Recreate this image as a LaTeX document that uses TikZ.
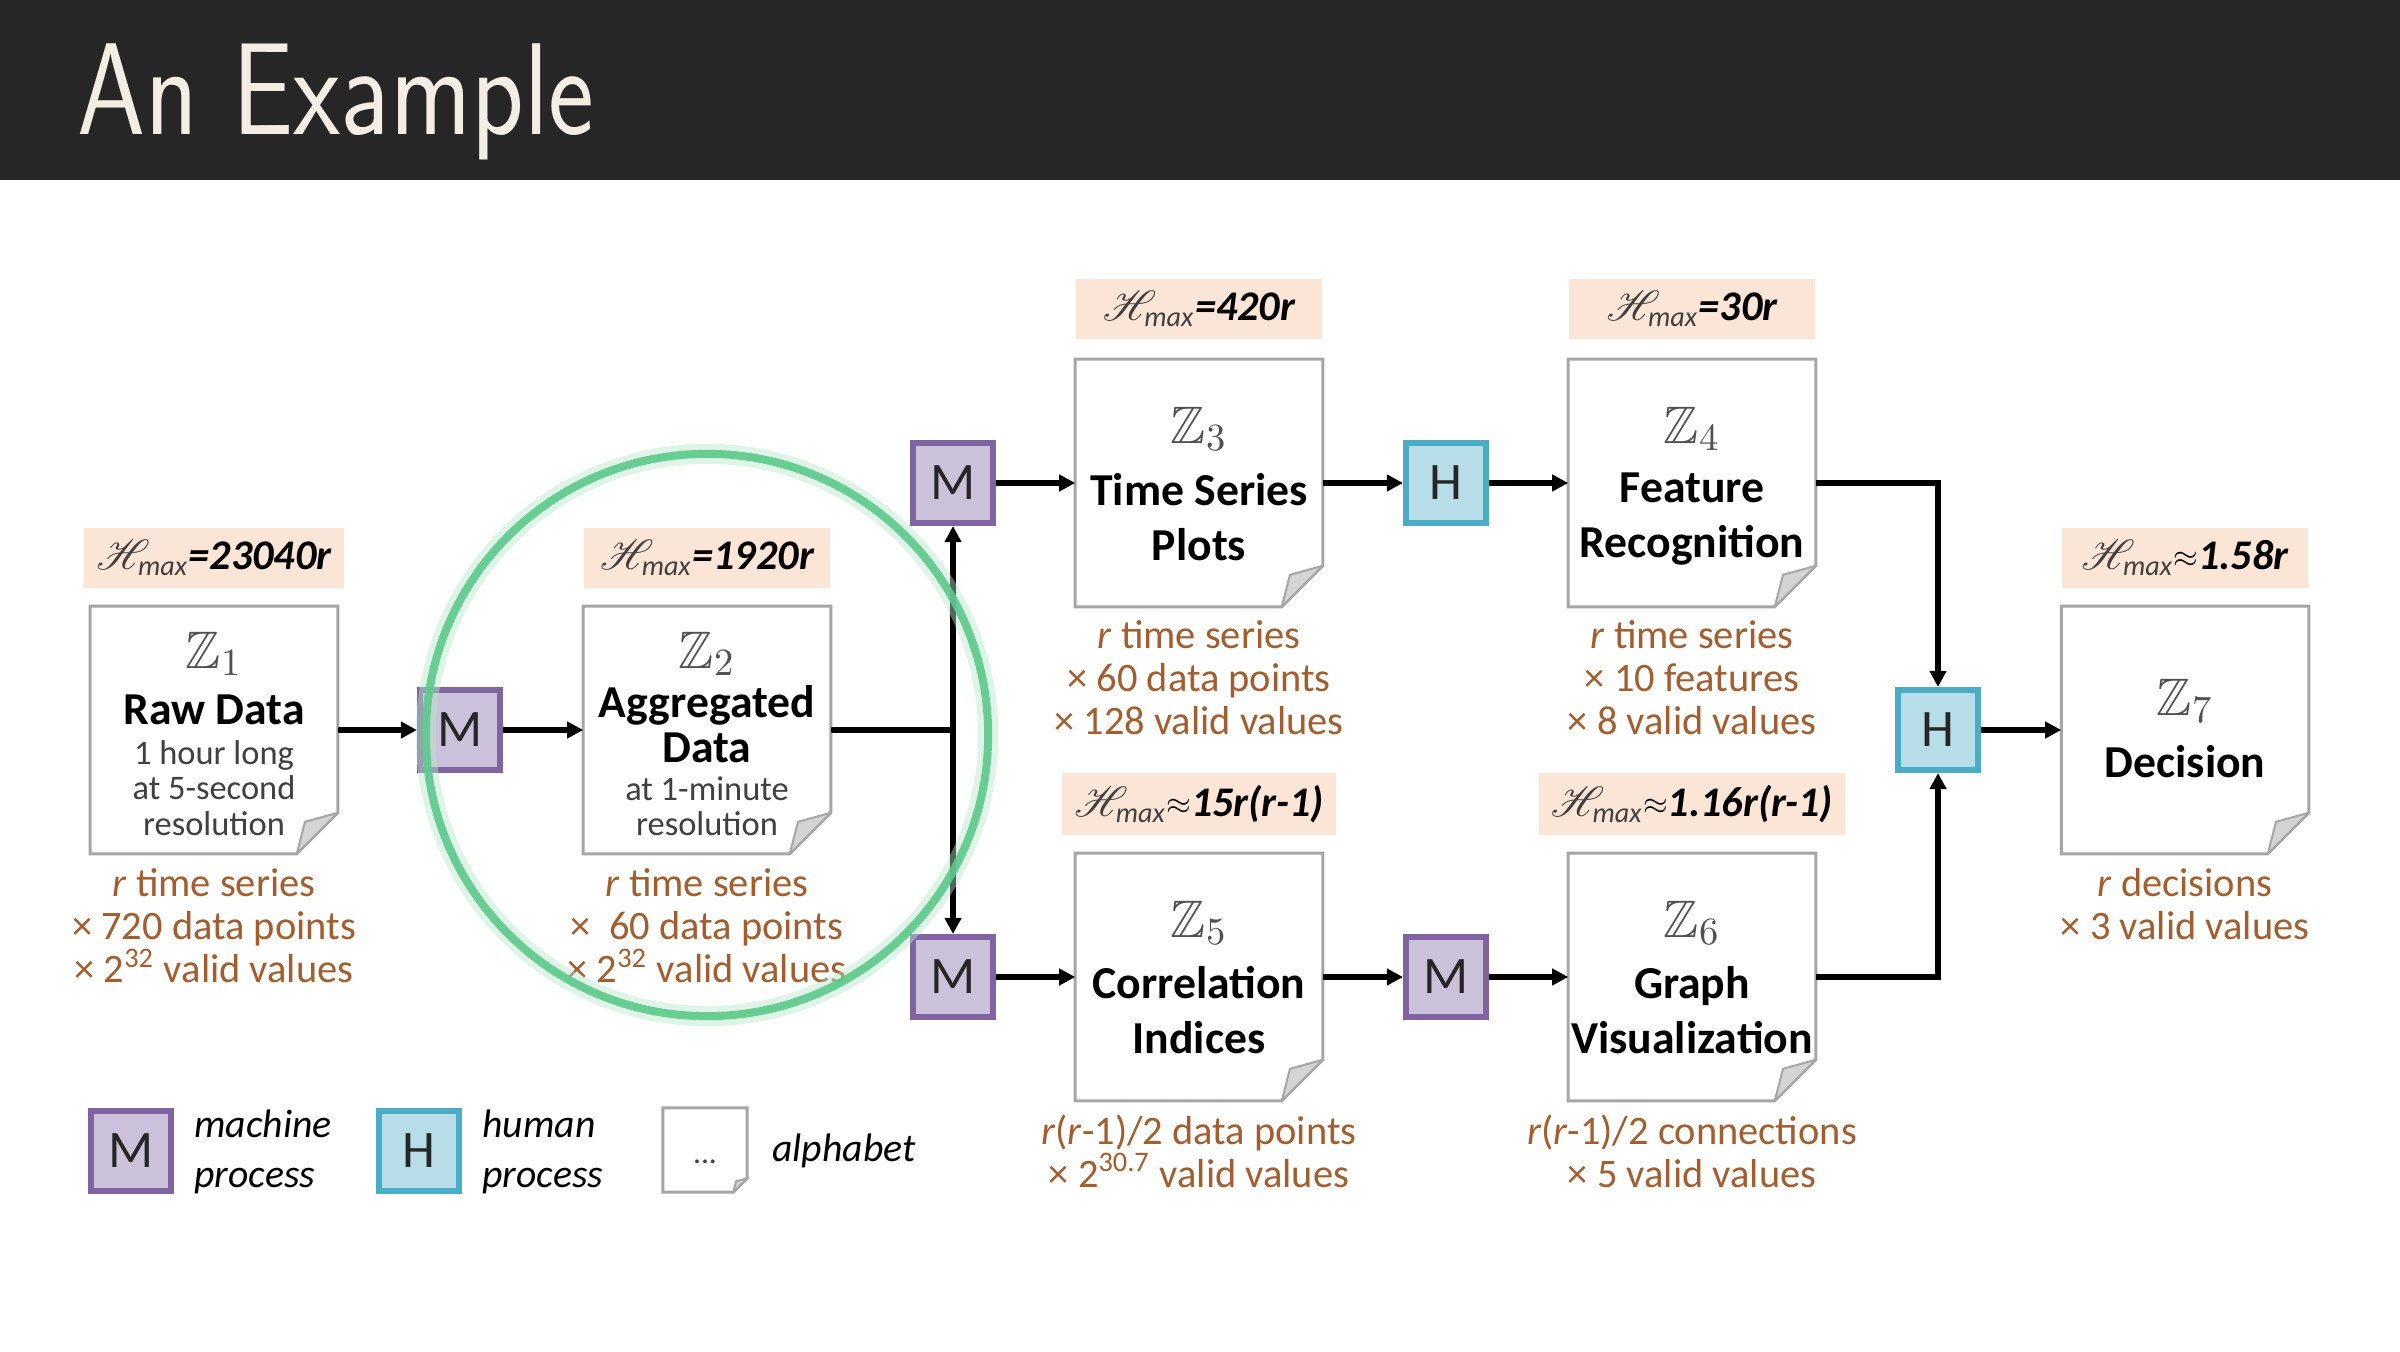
\documentclass[tikz,border=0pt]{standalone}
\usepackage{fontspec}
\usepackage{amssymb}
\usepackage{mathrsfs}
\setmainfont{Carlito}
\usetikzlibrary{arrows.meta,calc}
\definecolor{titlebg}{HTML}{262626}
\definecolor{titlefg}{HTML}{F3EDE4}
\definecolor{peach}{HTML}{FBE5D6}
\definecolor{brownt}{HTML}{A35E30}
\definecolor{mfill}{HTML}{CCC1DA}
\definecolor{mline}{HTML}{8064A2}
\definecolor{hfill}{HTML}{B7DEE8}
\definecolor{hline}{HTML}{4BACC6}
\definecolor{docline}{HTML}{A6A6A6}
\definecolor{foldfill}{HTML}{D4D4D4}
\definecolor{ringg}{HTML}{5CC98A}
\definecolor{zgray}{HTML}{505050}
\definecolor{subgray}{HTML}{404040}
\tikzset{
  docnode/.style={inner sep=0pt},
  docedge/.style={draw=docline, fill=white, line width=0.03cm},
  foldst/.style={draw=docline, fill=foldfill, line width=0.02cm, line join=round},
  mproc/.style={draw=mline, fill=mfill, line width=0.06cm, minimum size=0.8cm, inner sep=0pt, font=\fontsize{15}{18}\selectfont, text=black!85},
  hproc/.style={draw=hline, fill=hfill, line width=0.06cm, minimum size=0.8cm, inner sep=0pt, font=\fontsize{15}{18}\selectfont, text=black!85},
  hlabel/.style={fill=peach, minimum width=2.46cm, minimum height=0.6cm, inner xsep=0.12cm, font=\fontsize{12}{14}\selectfont},
  zsym/.style={text=zgray, font=\fontsize{15}{18}\selectfont},
  dtitle/.style={font=\bfseries\fontsize{13}{15.6}\selectfont, align=center},
  dsub/.style={font=\fontsize{9.8}{10}\selectfont, align=center, text=subgray},
  info/.style={font=\fontsize{11.5}{12.2}\selectfont, align=center, text=brownt},
  legtext/.style={font=\itshape\fontsize{11.3}{14}\selectfont, align=left, anchor=west},
  conn/.style={line width=0.06cm, -{Triangle[length=0.16cm,width=0.16cm]}},
  plainline/.style={line width=0.06cm},
}
\newcommand\docbox[5]{%
  \node[docnode, minimum width=#4, minimum height=#4] (#1) at (#2,#3) {};
  \path[docedge] (#1.north west) -- (#1.north east) -- ([shift={(0,-#5)}]#1.south east) -- ([shift={(-#5,0)}]#1.south east) -- (#1.south west) -- cycle;
  \path[foldst] ([shift={(0,-#5)}]#1.south east) -- ([shift={({-0.8*#5},{-0.78*#5})}]#1.south east) -- ([shift={(-#5,0)}]#1.south east) -- cycle;
}
\newcommand\Hm{{\color{subgray}$\mathscr{H}$\kern-0.28em\textsubscript{\itshape max}}}
\newcommand\apx{\raisebox{0.1ex}{\scalebox{0.75}{$\approx$}}}
\begin{document}
\begin{tikzpicture}[x=0.01cm,y=-0.01cm]
\useasboundingbox (0,0) rectangle (2400,1352);
\fill[white] (0,0) rectangle (2400,1352);
\fill[titlebg] (0,0) rectangle (2400,180);
\node[anchor=base west, inner sep=0pt, text=titlefg, font=\sffamily\fontsize{31}{36}\selectfont] (title) at (77,135) {\scalebox{1}[1.2]{An Example}};

% documents
\docbox{Z1}{214}{730}{2.46cm}{41}
\docbox{Z2}{707}{730}{2.46cm}{41}
\docbox{Z3}{1199}{483}{2.46cm}{41}
\docbox{Z4}{1692}{483}{2.46cm}{41}
\docbox{Z5}{1199}{977}{2.46cm}{41}
\docbox{Z6}{1692}{977}{2.46cm}{41}
\docbox{Z7}{2185}{730}{2.46cm}{41}

% H max labels
\node[hlabel] (L1) at (214,558) {\Hm{\bfseries\itshape =23040r}};
\node[hlabel] (L2) at (707,558) {\Hm{\bfseries\itshape =1920r}};
\node[hlabel] (L3) at (1199,309) {\Hm{\bfseries\itshape =420r}};
\node[hlabel] (L4) at (1692,309) {\Hm{\bfseries\itshape =30r}};
\node[hlabel] (L5) at (1199,804) {\Hm{\bfseries\itshape \apx15r(r-1)}};
\node[hlabel] (L6) at (1692,804) {\Hm{\bfseries\itshape \apx1.16r(r-1)}};
\node[hlabel] (L7) at (2185,558) {\Hm{\bfseries\itshape \apx1.58r}};

% contents
\node[zsym] (z1) at (214,654) {$\mathbb{Z}_1$};
\node[dtitle] (t1) at (214,710) {Raw Data};
\node[dsub] (s1) at (214,788) {1 hour long\\at 5-second\\resolution};
\node[zsym] (z2) at (707,654) {$\mathbb{Z}_2$};
\node[dtitle, font=\bfseries\fontsize{13}{13}\selectfont] (t2) at (707,724) {Aggregated\\Data};
\node[dsub] (s2) at (707,806) {at 1-minute\\resolution};
\node[zsym] (z3) at (1199,429) {$\mathbb{Z}_3$};
\node[dtitle] (t3) at (1199,517) {Time Series\\Plots};
\node[zsym] (z4) at (1692,429) {$\mathbb{Z}_4$};
\node[dtitle] (t4) at (1692,519) {Feature\\Recognition};
\node[zsym] (z5) at (1199,923) {$\mathbb{Z}_5$};
\node[dtitle] (t5) at (1199,1010) {Correlation\\Indices};
\node[zsym] (z6) at (1692,923) {$\mathbb{Z}_6$};
\node[dtitle] (t6) at (1692,1010) {Graph\\Visualization};
\node[zsym] (z7) at (2185,701) {$\mathbb{Z}_7$};
\node[dtitle] (t7) at (2185,762) {Decision};

% info texts
\node[info] (i1) at (214,926) {\textit{r} time series\\× 720 data points\\× 2\textsuperscript{32} valid values};
\node[info] (i2) at (707,926) {\textit{r} time series\\× \ 60 data points\\× 2\textsuperscript{32} valid values};
\node[info] (i3) at (1199,678) {\textit{r} time series\\× 60 data points\\× 128 valid values};
\node[info] (i4) at (1692,678) {\textit{r} time series\\× 10 features\\× 8 valid values};
\node[info] (i5) at (1199,1151) {\textit{r}(\textit{r}-1)/2 data points\\× 2\textsuperscript{30.7} valid values};
\node[info] (i6) at (1692,1151) {\textit{r}(\textit{r}-1)/2 connections\\× 5 valid values};
\node[info] (i7) at (2185,904) {\textit{r} decisions\\× 3 valid values};

% process boxes
\node[mproc] (M1) at (460,730) {M};
\node[mproc] (Mt) at (953,483) {M};
\node[mproc] (Mb) at (953,977) {M};
\node[hproc] (Ht) at (1446,483) {H};
\node[mproc] (Mm) at (1446,977) {M};
\node[hproc] (Hr) at (1938,730) {H};

% connectors
\coordinate (J) at (Mt.south |- Z2.east);
\draw[conn] (Z1.east) -- (M1.west);
\draw[conn] (M1.east) -- (Z2.west);
\draw[plainline] (Z2.east) -- (J);
\draw[conn] (J) -- (Mt.south);
\draw[conn] (J) -- (Mb.north);
\draw[conn] (Mt.east) -- (Z3.west);
\draw[conn] (Z3.east) -- (Ht.west);
\draw[conn] (Ht.east) -- (Z4.west);
\draw[conn] (Z4.east) -| (Hr.north);
\draw[conn] (Mb.east) -- (Z5.west);
\draw[conn] (Z5.east) -- (Mm.west);
\draw[conn] (Mm.east) -- (Z6.west);
\draw[conn] (Z6.east) -| (Hr.south);
\draw[conn] (Hr.east) -- (Z7.west);

% legend
\node[mproc] (LM) at (131,1151) {M};
\node[legtext] (LMt) at (182,1152) {machine\\process};
\node[hproc] (LH) at (419,1151) {H};
\node[legtext] (LHt) at (470,1152) {human\\process};
\docbox{LD}{705}{1150}{0.83cm}{14}
\node[font=\fontsize{9}{10}\selectfont, text=subgray] (LDdots) at (705,1162) {...};
\node[legtext] (LDt) at (760,1151) {alphabet};

% highlight ring
\draw[ringg!45, line width=0.2cm, opacity=0.45] (707,735) circle[radius=2.81cm];
\draw[ringg, line width=0.08cm, opacity=0.9] (707,735) circle[radius=2.81cm];
\end{tikzpicture}
\end{document}
